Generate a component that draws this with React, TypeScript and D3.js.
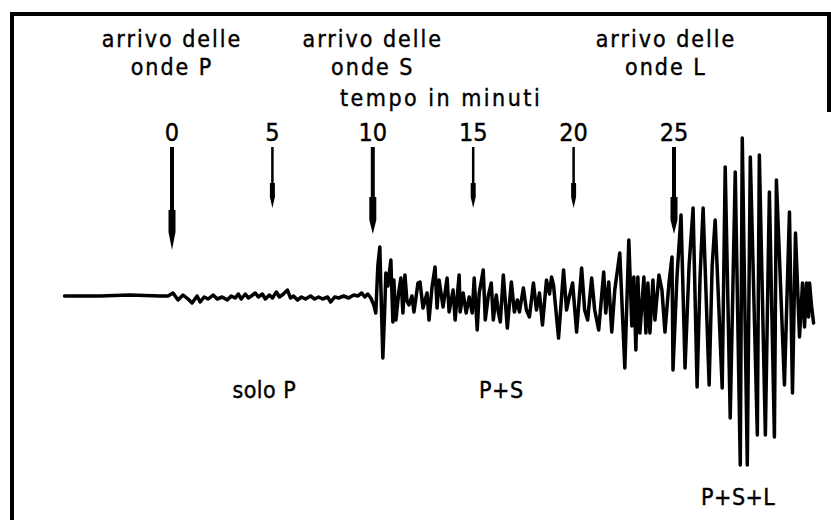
import React from "react";
import * as d3 from "d3";

// minute marks along the time axis
const tickMinutes = [0, 5, 10, 15, 20, 25];
const tickLabels = ["0", "5", "10", "15", "20", "25"];
// arrival arrows (minutes) vs. plain minute arrows
const arrivalMinutes = [0, 10, 25];

const arrivalLabels = [
  { minute: 0, l1: "arrivo delle", l2: "onde P" },
  { minute: 10, l1: "arrivo delle", l2: "onde S" },
  { minute: 24.6, l1: "arrivo delle", l2: "onde L" },
];

const phaseLabels = [
  { minute: 4.6, text: "solo P", row: 0 },
  { minute: 16.4, text: "P+S", row: 0 },
  { minute: 28.2, text: "P+S+L", row: 1 },
];

// seismogram trace: [time in seconds, amplitude]
const traceTime = [
  -321, -216, -126, -36, -12, 3, 18, 33, 48, 60, 75, 84, 96, 108, 123, 135, 150, 165, 177, 189,
  198, 207, 219, 228, 237, 249, 258, 270, 279, 291, 300, 312, 321, 333, 345, 354, 363, 375, 387, 399,
  414, 426, 438, 450, 465, 474, 486, 498, 513, 528, 543, 555, 567, 576, 585, 594, 603, 609, 615, 621,
  624, 630, 636, 639, 645, 654, 660, 663, 669, 678, 684, 690, 696, 702, 708, 717, 723, 735, 741, 750,
  762, 768, 777, 786, 792, 798, 810, 822, 828, 840, 846, 858, 861, 870, 879, 888, 897, 903, 912, 918,
  930, 936, 945, 954, 960, 969, 975, 981, 990, 1002, 1014, 1023, 1032, 1038, 1050, 1059, 1068, 1080, 1089, 1098,
  1107, 1119, 1128, 1134, 1140, 1155, 1170, 1179, 1185, 1197, 1209, 1224, 1233, 1242, 1254, 1263, 1275, 1290, 1296, 1305,
  1314, 1323, 1338, 1353, 1365, 1374, 1380, 1386, 1392, 1398, 1410, 1416, 1422, 1428, 1437, 1443, 1455, 1464, 1473, 1485,
  1494, 1497, 1509, 1521, 1533, 1545, 1557, 1569, 1578, 1587, 1605, 1614, 1623, 1644, 1653, 1668, 1683, 1698, 1704, 1719,
  1728, 1749, 1755, 1773, 1785, 1800, 1806, 1830, 1845, 1854, 1863, 1875, 1884, 1890, 1896, 1902, 1905, 1911, 1917,
];
const traceAmp = [
  0, 0, 1, 0, 0, 3, -4, 1, -3, -7, 0, -6, -1, -3, 1, -3, -1, -4, 0, -2,
  2, -3, 2, -2, 0, 3, -1, 2, -3, 1, -2, 4, -1, 2, 6, -2, 0, -4, -1, -3,
  0, -3, -1, -3, -1, -6, -1, -2, 0, -2, 1, 0, 3, -1, 2, -2, -9, -17, 30, 49,
  10, -62, -10, 23, 10, 36, -26, 16, -24, 5, 18, -17, 21, -5, -9, 0, -16, 13, 14, -12,
  3, -24, 9, 29, -12, 16, -11, 18, -16, 6, -24, 21, -16, 3, -17, -1, -17, 18, -34, 3,
  26, -24, 0, 13, -24, 1, -16, -26, 21, -32, 14, -16, -4, -16, 8, -14, -21, 13, -14, 3,
  -29, 16, 2, 19, 11, -42, 26, -14, -4, 13, -36, 28, -14, -24, 18, -14, -34, 24, -17, 14,
  -36, 6, 43, -72, 56, -30, 19, -54, 19, -37, 19, -37, 13, -37, 16, -24, 21, 6, -36, 13,
  39, -74, 20, 81, -72, 30, 88, -91, 20, 88, -89, 30, 76, -92, 129, -122, 124, -169, 158, -169,
  139, -139, 141, -139, 104, -141, 116, -89, 84, -97, 63, -41, 13, -31, 13, -21, 13, -10, -27,
];

const W = 831;
const H = 520;
const FONT = "'DejaVu Sans Condensed', 'DejaVu Sans', sans-serif";

export default function App() {
  const x = d3.scaleLinear().domain([0, 25]).range([172, 674]);
  const xs = (s: number) => x(s / 60);
  const y = d3.scaleLinear().domain([-150, 150]).range([446, 146]);

  const pts: [number, number][] = traceTime.map((t, i) => [t, traceAmp[i]]);
  const line = d3
    .line<[number, number]>()
    .x((d) => xs(d[0]))
    .y((d) => y(d[1]))
    .curve(d3.curveLinear);

  const arrowTop = 147;
  const arrowGeom = (m: number) => {
    if (m === 0) return { shaftEnd: 210, headEnd: 232, tipEnd: 250, w: 4, hw: 7 };
    if (arrivalMinutes.includes(m)) return { shaftEnd: 197, headEnd: 220, tipEnd: 234, w: 4, hw: 7 };
    return { shaftEnd: 183, headEnd: 197, tipEnd: 208, w: 2.5, hw: 5 };
  };

  const textStyle: React.CSSProperties = {
    fontFamily: FONT,
    fontSize: 23,
    letterSpacing: 2,
    fill: "#000",
    stroke: "#000",
    strokeWidth: 0.4,
  };

  return (
    <svg
      width={W}
      height={H}
      viewBox={`0 0 ${W} ${H}`}
      style={{ position: "absolute", left: 0, top: 0, background: "#fff" }}
    >
      <rect x={0} y={0} width={W} height={H} fill="#fff" />
      {/* frame */}
      <line x1={10} y1={14} x2={W} y2={14} stroke="#000" strokeWidth={4} />
      <line x1={12} y1={12} x2={12} y2={H} stroke="#000" strokeWidth={4} />
      <line x1={829} y1={12} x2={829} y2={112} stroke="#000" strokeWidth={4} />

      {/* arrival headers */}
      {arrivalLabels.map((a, i) => (
        <g key={i}>
          <text x={x(a.minute)} y={47} textAnchor="middle" style={textStyle}>
            {a.l1}
          </text>
          <text x={x(a.minute)} y={75} textAnchor="middle" style={textStyle}>
            {a.l2}
          </text>
        </g>
      ))}
      <text x={x(13.4)} y={106} textAnchor="middle" style={{ ...textStyle, letterSpacing: 2.5 }}>
        tempo in minuti
      </text>

      {/* minute ticks and arrows */}
      {tickMinutes.map((m, i) => {
        const g = arrowGeom(m);
        const cx = x(m);
        return (
          <g key={m}>
            <text x={cx} y={141} textAnchor="middle" style={{ ...textStyle, fontSize: 25, letterSpacing: 0 }}>
              {tickLabels[i]}
            </text>
            <rect x={cx - g.w / 2} y={arrowTop} width={g.w} height={g.shaftEnd - arrowTop} fill="#000" />
            <rect x={cx - g.hw / 2} y={g.shaftEnd} width={g.hw} height={g.headEnd - g.shaftEnd} fill="#000" />
            <path
              d={`M${cx - g.hw / 2},${g.headEnd} L${cx + g.hw / 2},${g.headEnd} L${cx},${g.tipEnd} Z`}
              fill="#000"
            />
          </g>
        );
      })}

      {/* seismogram */}
      <path
        d={line(pts) || ""}
        fill="none"
        stroke="#000"
        strokeWidth={3.5}
        strokeLinejoin="round"
        strokeLinecap="round"
      />

      {/* phase labels */}
      {phaseLabels.map((p, i) => (
        <text
          key={i}
          x={x(p.minute)}
          y={p.row === 0 ? 398 : 505}
          textAnchor="middle"
          style={{ ...textStyle, letterSpacing: 0.5 }}
        >
          {p.text}
        </text>
      ))}
    </svg>
  );
}
